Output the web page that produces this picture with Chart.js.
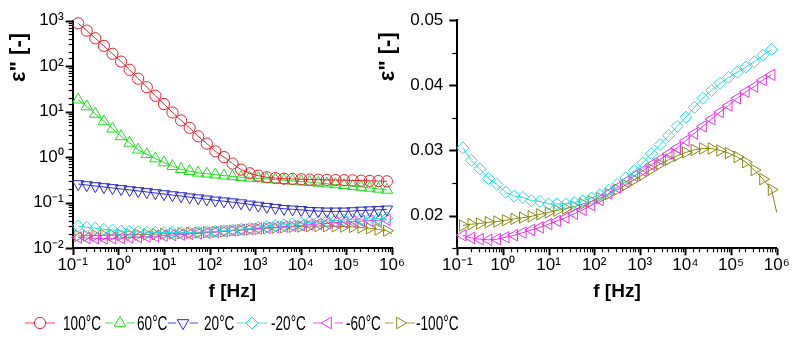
<!DOCTYPE html>
<html><head><meta charset="utf-8">
<script src="https://cdn.jsdelivr.net/npm/chart.js@4.4.1/dist/chart.umd.min.js"></script>
<style>
html,body{margin:0;padding:0;background:#fff;}
#wrap{position:relative;width:795px;height:340px;overflow:hidden;background:#fff;}
canvas{position:absolute;left:0;top:0;}
.lgs{position:absolute;top:313px;}
.lgt{position:absolute;top:312px;height:22px;line-height:22px;font-family:Arial,'Liberation Sans',sans-serif;font-size:20px;color:#000;transform:scaleX(0.68);transform-origin:0 50%;white-space:nowrap;}
</style></head><body>
<div id="wrap">
<canvas id="cl" width="795" height="340"></canvas>
<canvas id="cr" width="795" height="340"></canvas>
<div id="legend"></div>
</div>
<script>
// ---------------- data ----------------
const freqHz = [0.132, 0.203, 0.313, 0.483, 0.745, 1.15, 1.77, 2.73, 4.21, 6.49,
  10.0, 15.4, 23.8, 36.6, 56.5, 87.1, 134, 207, 319, 492,
  759, 1170, 1800, 2780, 4290, 6610, 10200, 15700, 24200, 37300,
  57500, 88700, 137000, 211000, 325000, 501000, 773000];

const seriesNames = ['100°C', '60°C', '20°C', '-20°C', '-60°C', '-100°C'];

const eps100C = [876, 604, 411, 279, 187, 126, 83, 53, 34.5, 22.4,
  14.7, 9.6, 6.4, 4.4, 2.86, 1.98, 1.34, 1.0, 0.72, 0.53,
  0.44, 0.39, 0.36, 0.345, 0.335, 0.33, 0.325, 0.32, 0.318, 0.315,
  0.312, 0.31, 0.307, 0.303, 0.30, 0.297, 0.293];

const eps60C = [18.3, 13.0, 8.9, 6.1, 4.2, 2.86, 2.05, 1.45, 1.15, 0.93,
  0.76, 0.63, 0.54, 0.49, 0.45, 0.43, 0.41, 0.39, 0.375, 0.36,
  0.35, 0.34, 0.33, 0.32, 0.31, 0.30, 0.29, 0.28, 0.27, 0.26,
  0.25, 0.24, 0.23, 0.22, 0.21, 0.20, 0.19];

const eps20C = [0.256, 0.243, 0.231, 0.220, 0.209, 0.199, 0.189, 0.180, 0.171, 0.162,
  0.154, 0.146, 0.139, 0.131, 0.125, 0.118, 0.112, 0.107, 0.102, 0.097,
  0.091, 0.086, 0.081, 0.077, 0.073, 0.071, 0.069, 0.066, 0.065, 0.064,
  0.064, 0.064, 0.065, 0.067, 0.068, 0.069, 0.071];

const epsMinus20C = [0.0304, 0.0285, 0.0272, 0.0257, 0.0248, 0.0236, 0.0230, 0.0228, 0.0223, 0.0222,
  0.0218, 0.0218, 0.0218, 0.0220, 0.0223, 0.0227, 0.0232, 0.0239, 0.0248, 0.0258,
  0.0269, 0.0281, 0.0295, 0.0309, 0.0323, 0.0337, 0.0351, 0.0366, 0.0380, 0.0392,
  0.0403, 0.0412, 0.0420, 0.0428, 0.0436, 0.0446, 0.0455];

const epsMinus60C = [0.0170, 0.0166, 0.0164, 0.0163, 0.0164, 0.0167, 0.0170, 0.0174, 0.0178, 0.0182,
  0.0187, 0.0192, 0.0197, 0.0203, 0.0209, 0.0216, 0.0224, 0.0234, 0.0243, 0.0252,
  0.0261, 0.0269, 0.0278, 0.0286, 0.0295, 0.0304, 0.0315, 0.0326, 0.0337, 0.0348,
  0.0359, 0.0369, 0.0380, 0.0390, 0.0398, 0.0408, 0.0416];

const epsMinus100C = [0.0185, 0.0187, 0.0188, 0.0190, 0.0191, 0.0193, 0.0195, 0.0197, 0.0199, 0.0202,
  0.0205, 0.0208, 0.0211, 0.0214, 0.0218, 0.0222, 0.0227, 0.0233, 0.0240, 0.0247,
  0.0255, 0.0263, 0.0271, 0.0279, 0.0286, 0.0292, 0.0297, 0.0301, 0.0303, 0.0303,
  0.0300, 0.0296, 0.0290, 0.0282, 0.0270, 0.0256, 0.0240];
// line of the -100°C curve continues to 1 MHz
const minus100TailFreqHz = [1.0e6];
const minus100TailEps = [0.0205];

const xTickLabels = ['10⁻¹', '10⁰', '10¹', '10²', '10³', '10⁴', '10⁵', '10⁶'];
const yTickLabelsLog = ['10⁻²', '10⁻¹', '10⁰', '10¹', '10²', '10³'];
const yTickLabelsLin = ['0.02', '0.03', '0.04', '0.05'];

// ---------------- styles ----------------
const FONT = "Arial, 'Liberation Sans', sans-serif";
const styles = [
  {color: '#e82030', pointStyle: 'circle',   rotation: 0,   radius: 5.6},
  {color: '#20dd20', pointStyle: 'triangle', rotation: 0,   radius: 6.6},
  {color: '#2828d4', pointStyle: 'triangle', rotation: 180, radius: 6.6},
  {color: '#20dede', pointStyle: 'rectRot',  rotation: 0,   radius: 6},
  {color: '#ec30ec', pointStyle: 'triangle', rotation: 270, radius: 6.6},
  {color: '#8a8a18', pointStyle: 'triangle', rotation: 90,  radius: 6.6}
];
const allSeries = [eps100C, eps60C, eps20C, epsMinus20C, epsMinus60C, epsMinus100C];

function makeDataset(idx) {
  const st = styles[idx];
  const values = allSeries[idx];
  const pts = values.map((v, i) => ({x: freqHz[i], y: v}));
  const n = values.length;
  if (idx === 5) minus100TailFreqHz.forEach((f, k) => pts.push({x: f, y: minus100TailEps[k]}));
  return {
    label: seriesNames[idx],
    data: pts,
    showLine: true,
    borderColor: st.color,
    borderWidth: 1,
    pointStyle: st.pointStyle,
    pointRotation: st.rotation,
    pointRadius: (c) => (c.dataIndex >= n ? 0 : st.radius),
    pointHoverRadius: st.radius,
    pointBorderColor: st.color,
    pointBackgroundColor: 'rgba(0,0,0,0)',
    pointBorderWidth: 1,
    tension: 0,
    clip: 8
  };
}

function isPow10(v) {
  const l = Math.log10(v);
  return Math.abs(l - Math.round(l)) < 1e-9;
}
function isHundredth(v) {
  return Math.abs(v * 100 - Math.round(v * 100)) < 1e-6;
}

// outward major/minor tick marks drawn at the library's tick values
const tickPlugin = {
  id: 'outTicks',
  afterDraw(chart) {
    const ctx = chart.ctx;
    ctx.save();
    ctx.strokeStyle = '#000';
    ['x', 'y'].forEach(id => {
      const s = chart.scales[id];
      const isLog = s.type === 'logarithmic';
      s.ticks.forEach(t => {
        const major = isLog ? isPow10(t.value) : isHundredth(t.value);
        const len = isLog ? (major ? 7 : 4) : (major ? 8 : 5);
        ctx.lineWidth = major ? 2 : 1.2;
        const p = Math.round(s.getPixelForValue(t.value)) + 0.5;
        ctx.beginPath();
        if (s.isHorizontal()) { ctx.moveTo(p, s.top); ctx.lineTo(p, s.top + len); }
        else { ctx.moveTo(s.right, p); ctx.lineTo(s.right - len, p); }
        ctx.stroke();
      });
    });
    ctx.restore();
  }
};

function xScale(h) {
  return {
    type: 'logarithmic', min: 0.1, max: 1e6,
    grid: {display: false, drawTicks: false},
    border: {display: true, color: '#000', width: 2},
    ticks: {
      autoSkip: false, maxRotation: 0, padding: 7, color: '#000',
      font: {size: 17, family: FONT},
      callback: (v) => isPow10(v) ? (xTickLabels[Math.round(Math.log10(v)) + 1] ?? '') : ''
    },
    title: {display: true, text: 'f [Hz]', color: '#000',
      font: {size: 19, weight: 'bold', family: FONT}, padding: {top: 0, bottom: 36.6}},
    afterFit: (s) => { s.height = h; s.paddingLeft = 0; s.paddingRight = 0; }
  };
}
const yTitle = (pad) => ({display: true, text: 'ε" [-]\u00a0\u00a0', align: 'end', color: '#000',
  font: {size: 22, weight: 'bold', family: FONT}, padding: {top: pad, bottom: 0}});

const common = {
  responsive: false, animation: false, events: [],
  plugins: {legend: {display: false}, tooltip: {enabled: false}}
};

// left panel: log-log, all six temperatures
new Chart(document.getElementById('cl'), {
  type: 'scatter',
  data: {datasets: [0, 1, 2, 3, 4, 5].map(makeDataset)},
  options: Object.assign({}, common, {
    layout: {padding: {left: 0, right: 403, top: 20.7, bottom: 0}},
    scales: {
      x: xScale(92),
      y: {
        type: 'logarithmic', min: 0.01, max: 1000,
        grid: {display: false, drawTicks: false},
        border: {display: true, color: '#000', width: 2},
        ticks: {
          autoSkip: false, padding: 9, color: '#000', font: {size: 17, family: FONT},
          callback: (v) => isPow10(v) ? (yTickLabelsLog[Math.round(Math.log10(v)) + 2] ?? '') : ''
        },
        title: yTitle(5.5),
        afterFit: (s) => { s.width = 72.7; s.paddingTop = 0; s.paddingBottom = 0; }
      }
    }
  }),
  plugins: [tickPlugin]
});

// right panel: linear ε'' for the three lowest temperatures
new Chart(document.getElementById('cr'), {
  type: 'scatter',
  data: {datasets: [3, 4, 5].map(makeDataset)},
  options: Object.assign({}, common, {
    layout: {padding: {left: 370, right: 18.3, top: 20, bottom: 0}},
    scales: {
      x: xScale(91.7),
      y: {
        type: 'linear', min: 0.015, max: 0.05,
        grid: {display: false, drawTicks: false},
        border: {display: true, color: '#000', width: 2},
        ticks: {
          stepSize: 0.005, autoSkip: false, padding: 14, color: '#000', font: {size: 17, family: FONT},
          callback: (v) => isHundredth(v) ? (yTickLabelsLin[Math.round(v * 100) - 2] ?? '') : ''
        },
        title: yTitle(5),
        afterFit: (s) => { s.width = 87.3; s.paddingTop = 0; s.paddingBottom = 0; }
      }
    }
  }),
  plugins: [tickPlugin]
});

// legend (HTML, real text)
const legendSymX = [25, 105, 168, 237, 313, 385];
const legendTextX = [63, 137, 204, 271, 346, 416];
function markerSvg(st) {
  const cx = 15, cy = 10, r = st.radius;
  let shape;
  if (st.pointStyle === 'circle') {
    shape = `<circle cx="${cx}" cy="${cy}" r="${r}" fill="none" stroke="${st.color}" stroke-width="1"/>`;
  } else {
    const n = st.pointStyle === 'rectRot' ? 4 : 3;
    const pts = [];
    for (let k = 0; k < n; k++) {
      const a = (st.rotation + k * 360 / n) * Math.PI / 180;
      pts.push((cx + r * Math.sin(a)).toFixed(2) + ',' + (cy - r * Math.cos(a)).toFixed(2));
    }
    shape = `<polygon points="${pts.join(' ')}" fill="none" stroke="${st.color}" stroke-width="1"/>`;
  }
  return `<svg width="30" height="20" xmlns="http://www.w3.org/2000/svg">
    <line x1="0" y1="${cy}" x2="${cx - r}" y2="${cy}" stroke="${st.color}" stroke-opacity="0.55" stroke-width="1.5"/>
    <line x1="${cx + r}" y1="${cy}" x2="30" y2="${cy}" stroke="${st.color}" stroke-opacity="0.55" stroke-width="1.5"/>
    ${shape}</svg>`;
}
const lg = document.getElementById('legend');
seriesNames.forEach((name, i) => {
  const s = document.createElement('div');
  s.className = 'lgs';
  s.style.left = legendSymX[i] + 'px';
  s.innerHTML = markerSvg(styles[i]);
  lg.appendChild(s);
  const t = document.createElement('div');
  t.className = 'lgt';
  t.style.left = legendTextX[i] + 'px';
  t.textContent = name;
  lg.appendChild(t);
});
</script>
</body></html>
